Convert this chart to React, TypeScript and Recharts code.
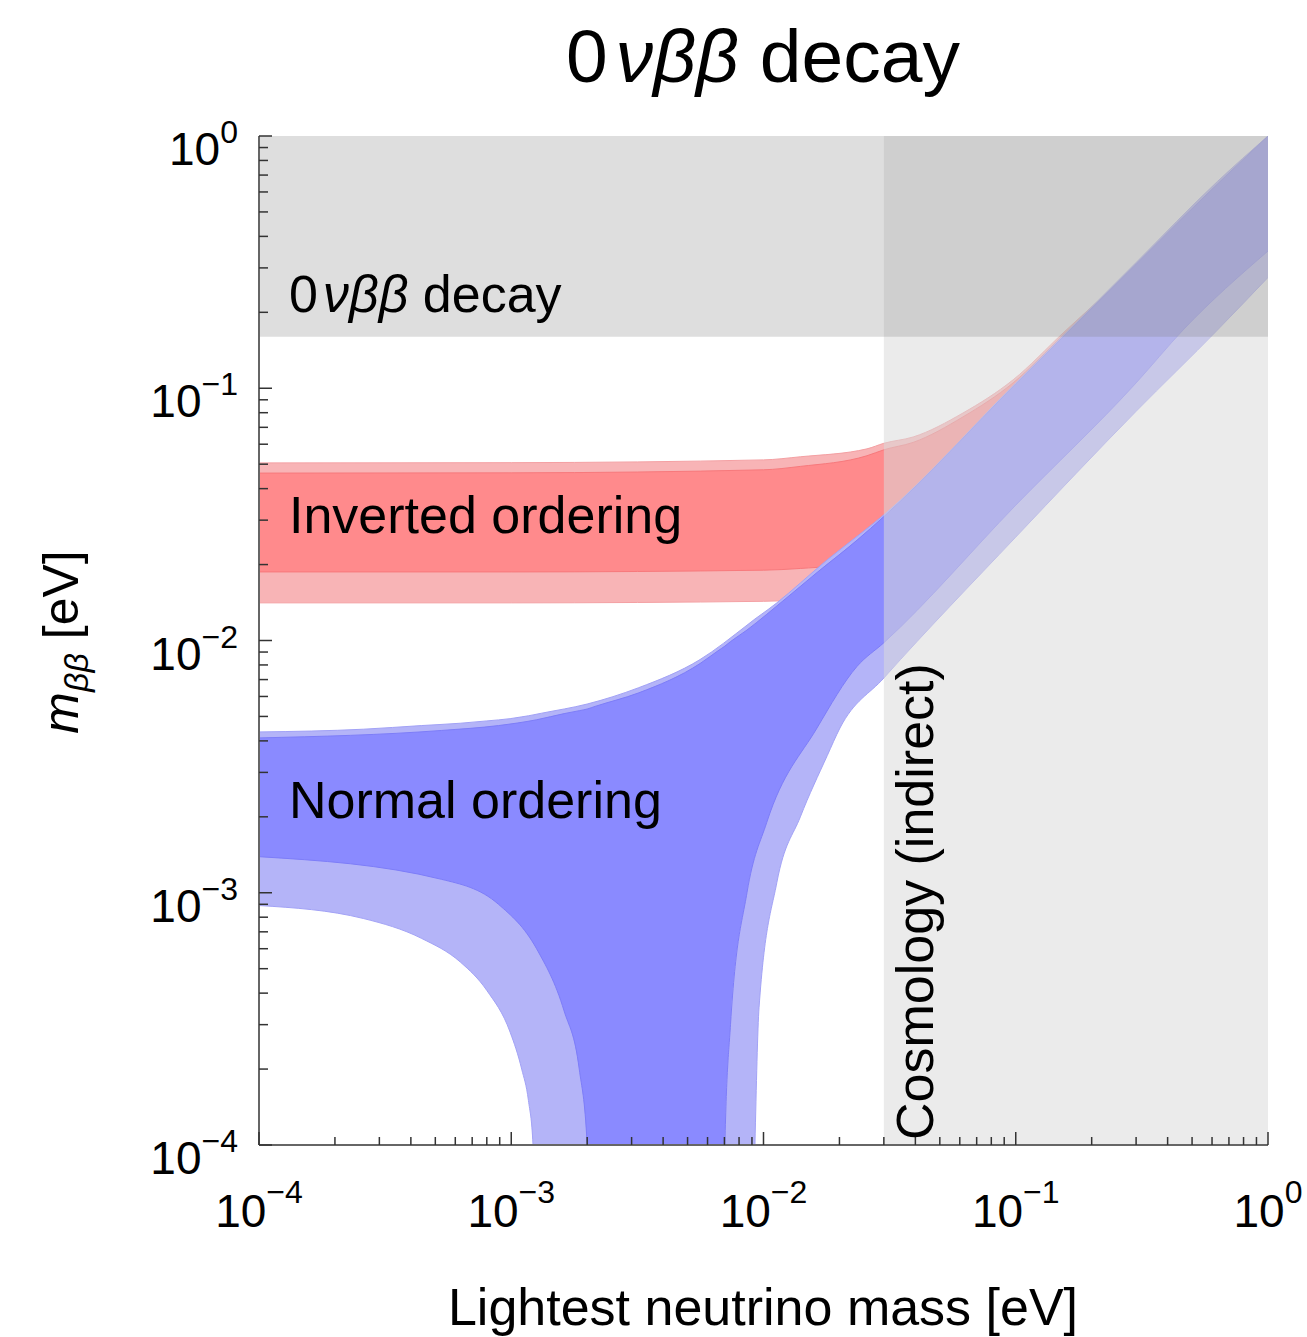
import React from 'react';
import { ComposedChart, Area, XAxis, YAxis } from 'recharts';

const FONT = '"Liberation Sans", Arial, Helvetica, sans-serif';

// log axes: labelled decades plus the 2..9 minor marks inside each decade
const majorTicks = [1e-4, 1e-3, 1e-2, 1e-1, 1];
const minorSteps = [2, 3, 4, 5, 6, 7, 8, 9];

// where m_bb cancels to zero the band runs off the bottom of the log axis
const ZERO = 1e-6;

// Normal ordering, outer (light) band
const noOuterX = [1e-4, 2.6e-4, 4.4e-4, 6.3e-4, 8e-4, 9.9e-4, 1.1e-3, 1.17e-3, 1.22e-3, 1.32e-3, 2e-3, 3.2e-3, 5.6e-3, 8.6e-3, 9.25e-3, 9.6e-3, 0.0113, 0.014, 0.0179, 0.0201, 0.03, 0.1, 0.3, 0.63, 1];
const noOuterLow = [0.00089, 0.00079, 0.00066, 0.00053, 0.00041, 0.00028, 0.0002, 0.00015, 0.0001, ZERO, ZERO, ZERO, ZERO, ZERO, 0.0001, 0.00035, 0.0011, 0.002, 0.0035, 0.0045, 0.0071, 0.0257, 0.081, 0.17, 0.275];
const noOuterHigh = [0.00434, 0.00445, 0.0046, 0.0047, 0.0048, 0.0049, 0.00498, 0.00503, 0.00507, 0.00515, 0.0056, 0.0065, 0.0084, 0.0115, 0.01217, 0.0125, 0.0141, 0.0169, 0.0209, 0.0229, 0.0315, 0.105, 0.315, 0.66, 1.0];

// Normal ordering, inner (dark) band
const noInnerX = [1e-4, 5.3e-4, 8.9e-4, 1.26e-3, 1.62e-3, 1.86e-3, 2e-3, 2.15e-3, 3.2e-3, 5.6e-3, 6.6e-3, 7.03e-3, 7.4e-3, 8.6e-3, 0.0103, 0.0163, 0.0235, 0.03, 0.1, 0.3, 0.46, 1];
const noInnerLow = [0.00139, 0.00113, 0.0009, 0.0006, 0.00034, 0.0002, 0.0001, ZERO, ZERO, ZERO, ZERO, 0.0001, 0.0003, 0.001, 0.0019, 0.0045, 0.0079, 0.0098, 0.0344, 0.105, 0.17, 0.35];
const noInnerHigh = [0.00411, 0.0044, 0.0046, 0.00485, 0.00513, 0.00527, 0.00535, 0.00548, 0.0062, 0.0081, 0.0091, 0.0095, 0.0099, 0.011, 0.0127, 0.0186, 0.025, 0.031, 0.104, 0.31, 0.475, 1.0];

// Inverted ordering, outer and inner bands
const ioX = [1e-4, 1e-3, 0.01, 0.014, 0.0257, 0.03, 0.0392, 0.0618, 0.0976, 0.154, 0.3, 1];
const ioOuterLow = [0.0141, 0.0141, 0.0143, 0.0145, 0.0155, 0.0165, 0.018, 0.023, 0.031, 0.046, 0.087, 0.285];
const ioOuterHigh = [0.0506, 0.0507, 0.052, 0.0535, 0.0575, 0.0605, 0.0641, 0.0798, 0.108, 0.1656, 0.305, 1.0];
const ioInnerLow = [0.0187, 0.0187, 0.019, 0.0193, 0.0206, 0.022, 0.024, 0.03, 0.041, 0.06, 0.114, 0.37];
const ioInnerHigh = [0.0461, 0.0462, 0.0475, 0.049, 0.054, 0.057, 0.061, 0.077, 0.105, 0.162, 0.3, 0.99];

// excluded regions: cosmology (lightest mass) and 0vbb searches (m_bb)
const cosmoX = [0.03, 1];
const cosmoRange = [1e-4, 1];
const decayX = [1e-4, 1];
const decayRange = [0.16, 1];

const band = (xs: number[], lo: number[], hi: number[]) =>
  xs.map((x, i) => ({ x, range: [lo[i], hi[i]] }));

const noOuter = band(noOuterX, noOuterLow, noOuterHigh);
const noInner = band(noInnerX, noInnerLow, noInnerHigh);
const ioOuter = band(ioX, ioOuterLow, ioOuterHigh);
const ioInner = band(ioX, ioInnerLow, ioInnerHigh);
const cosmo = cosmoX.map((x) => ({ x, range: cosmoRange }));
const decay = decayX.map((x) => ({ x, range: decayRange }));

const logTicks = majorTicks.flatMap((d, i) =>
  i < majorTicks.length - 1 ? [d, ...minorSteps.map((m) => +(d * m).toPrecision(3))] : [d]
);

const expLabel = (v: number) => {
  const e = Math.round(Math.log10(v));
  return e === 0 ? '0' : '\u2212' + Math.abs(e);
};

function XTick(props: any) {
  const { x, y, payload } = props;
  const major = majorTicks.includes(payload.value);
  return (
    <g>
      <line x1={x} x2={x} y1={y} y2={y - (major ? 13 : 8)} stroke="#333" strokeWidth={1.5} />
      {major && (
        <text x={x} y={y + 82} textAnchor="middle" fontFamily={FONT} fontSize={46} fill="#000">
          10
          <tspan dy={-24} fontSize={32}>
            {expLabel(payload.value)}
          </tspan>
        </text>
      )}
    </g>
  );
}

function YTick(props: any) {
  const { x, y, payload } = props;
  const major = majorTicks.includes(payload.value);
  return (
    <g>
      <line x1={x} x2={x + (major ? 13 : 9)} y1={y} y2={y} stroke="#333" strokeWidth={1.5} />
      {major && (
        <text x={x - 21} y={y + 29} textAnchor="end" fontFamily={FONT} fontSize={46} fill="#000">
          10
          <tspan dy={-22} fontSize={32}>
            {expLabel(payload.value)}
          </tspan>
        </text>
      )}
    </g>
  );
}

const common = {
  dataKey: 'range',
  isAnimationActive: false,
  dot: false,
  activeDot: false,
  fillOpacity: 1,
} as const;

export default function App() {
  return (
    <div style={{ position: 'absolute', left: 0, top: 0, width: 1307, height: 1337, background: '#fff' }}>
      <ComposedChart width={1307} height={1337} margin={{ top: 136, right: 39, bottom: 0, left: 0 }}>
        <XAxis
          dataKey="x"
          type="number"
          scale="log"
          domain={[1e-4, 1]}
          allowDataOverflow
          ticks={logTicks}
          interval={0}
          tickSize={0}
          tickMargin={0}
          tickLine={false}
          tick={<XTick />}
          height={192}
          axisLine={{ stroke: '#666', strokeWidth: 2 }}
        />
        <YAxis
          type="number"
          scale="log"
          domain={[1e-4, 1]}
          allowDataOverflow
          ticks={logTicks}
          interval={0}
          tickSize={0}
          tickMargin={0}
          tickLine={false}
          tick={<YTick />}
          width={259}
          axisLine={{ stroke: '#666', strokeWidth: 2 }}
        />
        <XAxis xAxisId="top" orientation="top" type="number" scale="log" domain={[1e-4, 1]} height={0} tick={false} tickLine={false} axisLine={{ stroke: '#999', strokeWidth: 2 }} />
        <YAxis yAxisId="right" orientation="right" type="number" scale="log" domain={[1e-4, 1]} width={0} tick={false} tickLine={false} axisLine={{ stroke: '#999', strokeWidth: 2 }} />

        <Area {...common} data={ioOuter} type="monotone" fill="#f8b4b6" stroke="#f4a0a3" strokeWidth={1} />
        <Area {...common} data={ioInner} type="monotone" fill="#ff8a8c" stroke="#f7797c" strokeWidth={1} />
        <Area {...common} data={noOuter} type="monotone" fill="#b4b4f8" stroke="#a2a2f6" strokeWidth={1} />
        <Area {...common} data={noInner} type="monotone" fill="#8a8aff" stroke="#7d7df8" strokeWidth={1} />

        <Area {...common} data={cosmo} type="linear" fill="#d9d9d9" fillOpacity={0.53} stroke="none" />
        <Area {...common} data={decay} type="linear" fill="#808080" fillOpacity={0.26} stroke="none" />
      </ComposedChart>

      <svg width={1307} height={1337} style={{ position: 'absolute', left: 0, top: 0, pointerEvents: 'none' }} fontFamily={FONT}>
        <text x={763} y={82} textAnchor="middle" fontSize={75}>
          0<tspan dx={8} fontStyle="italic">νββ</tspan> decay
        </text>
        <text x={289} y={312} fontSize={52}>
          0<tspan dx={5} fontStyle="italic">νββ</tspan> decay
        </text>
        <text x={289} y={533} fontSize={52}>Inverted ordering</text>
        <text x={289} y={818} fontSize={52}>Normal ordering</text>
        <text transform="translate(933, 1140) rotate(-90)" fontSize={52}>Cosmology (indirect)</text>
        <text x={763} y={1325} textAnchor="middle" fontSize={52}>Lightest neutrino mass [eV]</text>
        <text transform="translate(78, 642) rotate(-90)" textAnchor="middle" fontSize={50}>
          <tspan fontStyle="italic">m</tspan>
          <tspan fontStyle="italic" fontSize={34} dy={10}>ββ</tspan>
          <tspan dy={-10}> [eV]</tspan>
        </text>
      </svg>
    </div>
  );
}
